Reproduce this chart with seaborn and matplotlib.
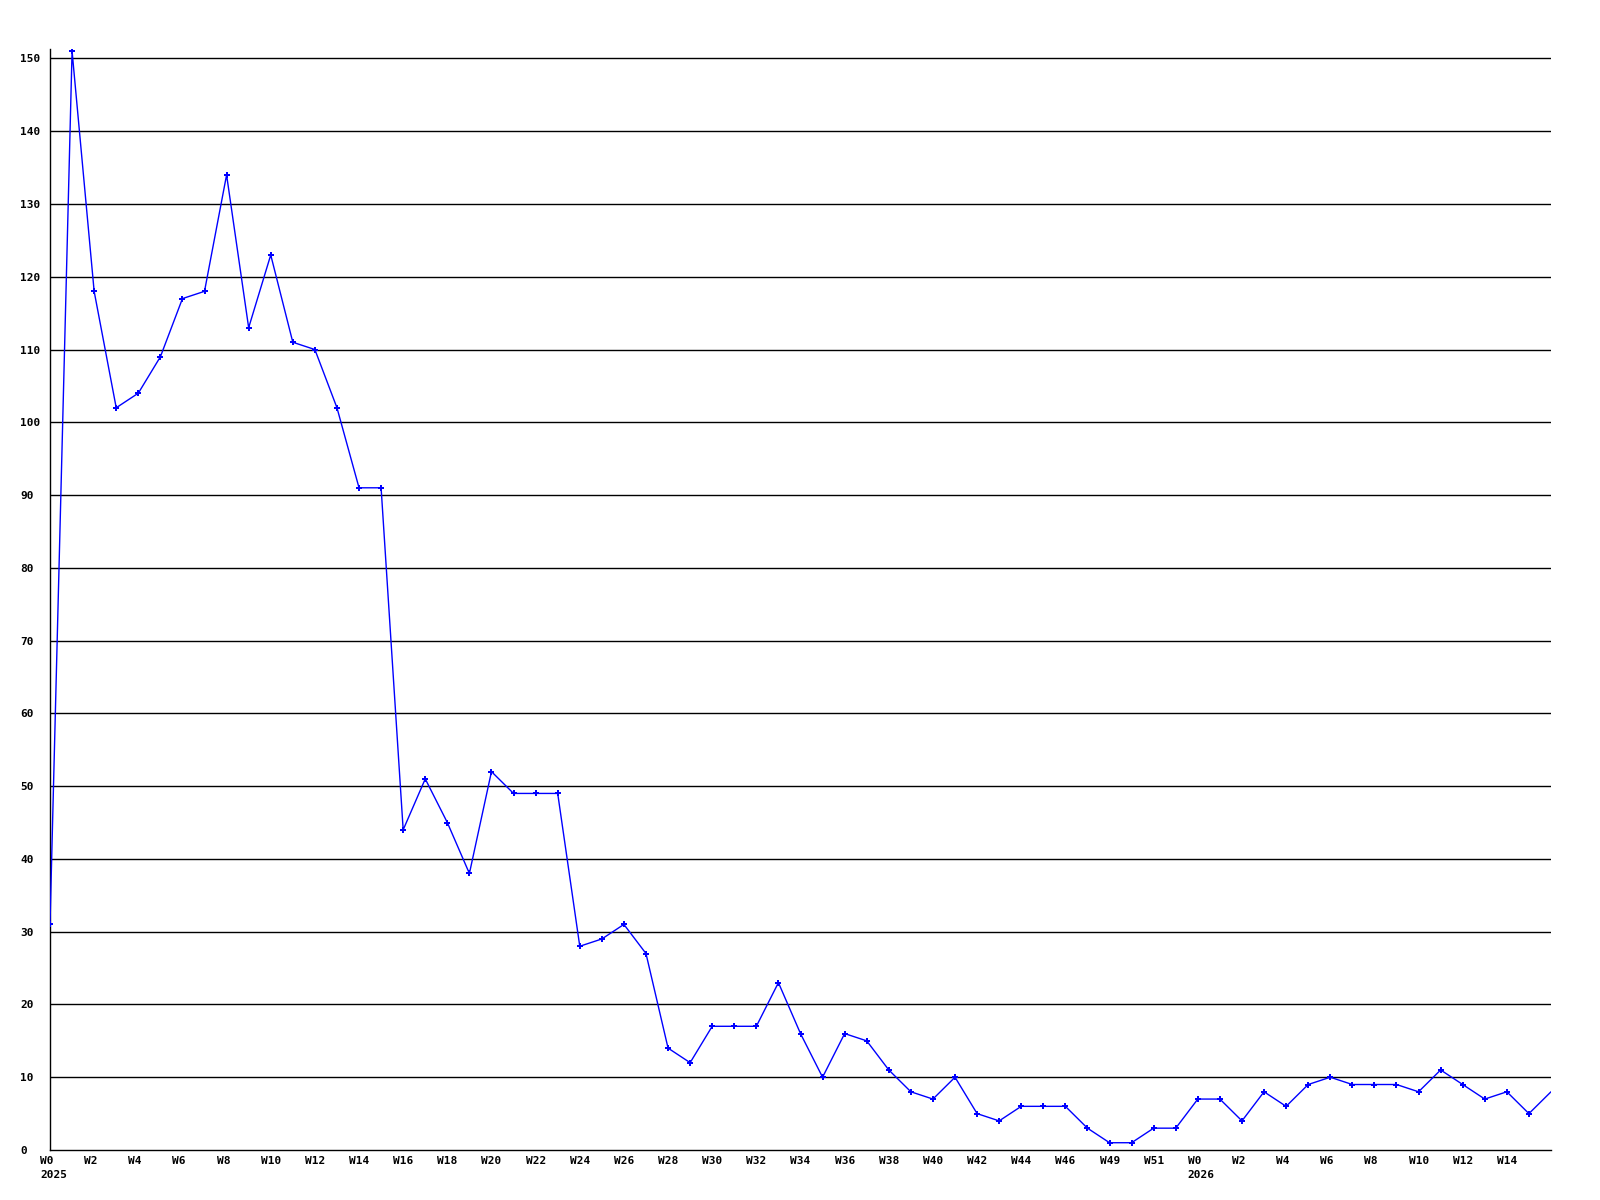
import matplotlib
matplotlib.use("Agg")
import matplotlib.pyplot as plt
import matplotlib.transforms as mtransforms
import seaborn as sns
import pandas as pd

# weekly counts, 2025 W0 through 2026 W15
values = [31, 151, 118, 102, 104, 109, 117, 118, 134, 113,
          123, 111, 110, 102, 91, 91, 44, 51, 45, 38,
          52, 49, 49, 49, 28, 29, 31, 27, 14, 12,
          17, 17, 17, 23, 16, 10, 16, 15, 11, 8,
          7, 10, 5, 4, 6, 6, 6, 3, 1, 1,
          3, 3, 7, 7, 4, 8, 6, 9, 10, 9,
          9, 9, 8, 11, 9, 7, 8, 5, 8]

week_labels = ["W0\n2025", "W2", "W4", "W6", "W8", "W10", "W12", "W14", "W16",
               "W18", "W20", "W22", "W24", "W26", "W28", "W30", "W32", "W34",
               "W36", "W38", "W40", "W42", "W44", "W46", "W49", "W51",
               "W0\n2026", "W2", "W4", "W6", "W8", "W10", "W12", "W14"]
y_ticks = list(range(0, 151, 10))

df = pd.DataFrame({"week": range(len(values)), "count": values})

sns.set_style("white")
plt.rcParams["font.family"] = ["DejaVu Sans Mono"]
plt.rcParams["font.weight"] = "bold"
plt.rcParams["text.color"] = "black"
plt.rcParams["xtick.color"] = "black"
plt.rcParams["ytick.color"] = "black"

fig = plt.figure(figsize=(16, 12), dpi=100)
ax = fig.add_axes([50 / 1600, 1 - 1150 / 1200, 1501 / 1600, 1101 / 1200])

for y in y_ticks[1:]:
    ax.axhline(y, color="black", linewidth=1.0, zorder=1)

sns.lineplot(data=df, x="week", y="count", color="#0000ff", linewidth=1.0,
             ax=ax, zorder=3)
sns.scatterplot(data=df.iloc[:-1], x="week", y="count", color="#0000ff",
                marker="P", s=20, linewidth=0, ax=ax, zorder=4)

ax.set_xlim(0, len(values) - 1)
ax.set_ylim(0, 151.3)
ax.set_xlabel("")
ax.set_ylabel("")

ax.set_yticks(y_ticks)
ax.set_yticklabels([str(v) for v in y_ticks], fontsize=8, fontweight="bold",
                   color="black")
ax.tick_params(axis="y", length=0, pad=21.6)
for lbl in ax.get_yticklabels():
    lbl.set_horizontalalignment("left")

ax.set_xticks(list(range(0, 47, 2)) + list(range(48, 67, 2)))
ax.set_xticklabels(week_labels, fontsize=8, fontweight="bold", linespacing=1.5,
                   color="black")
ax.tick_params(axis="x", length=0, pad=4)
offset = mtransforms.ScaledTranslation(-10 / 100, 0, fig.dpi_scale_trans)
for lbl in ax.get_xticklabels():
    lbl.set_horizontalalignment("left")
    lbl.set_transform(lbl.get_transform() + offset)

for side in ["top", "right"]:
    ax.spines[side].set_visible(False)
for side in ["left", "bottom"]:
    ax.spines[side].set_color("black")
    ax.spines[side].set_linewidth(1.0)

fig.savefig("out.png", dpi=100, facecolor="white")
